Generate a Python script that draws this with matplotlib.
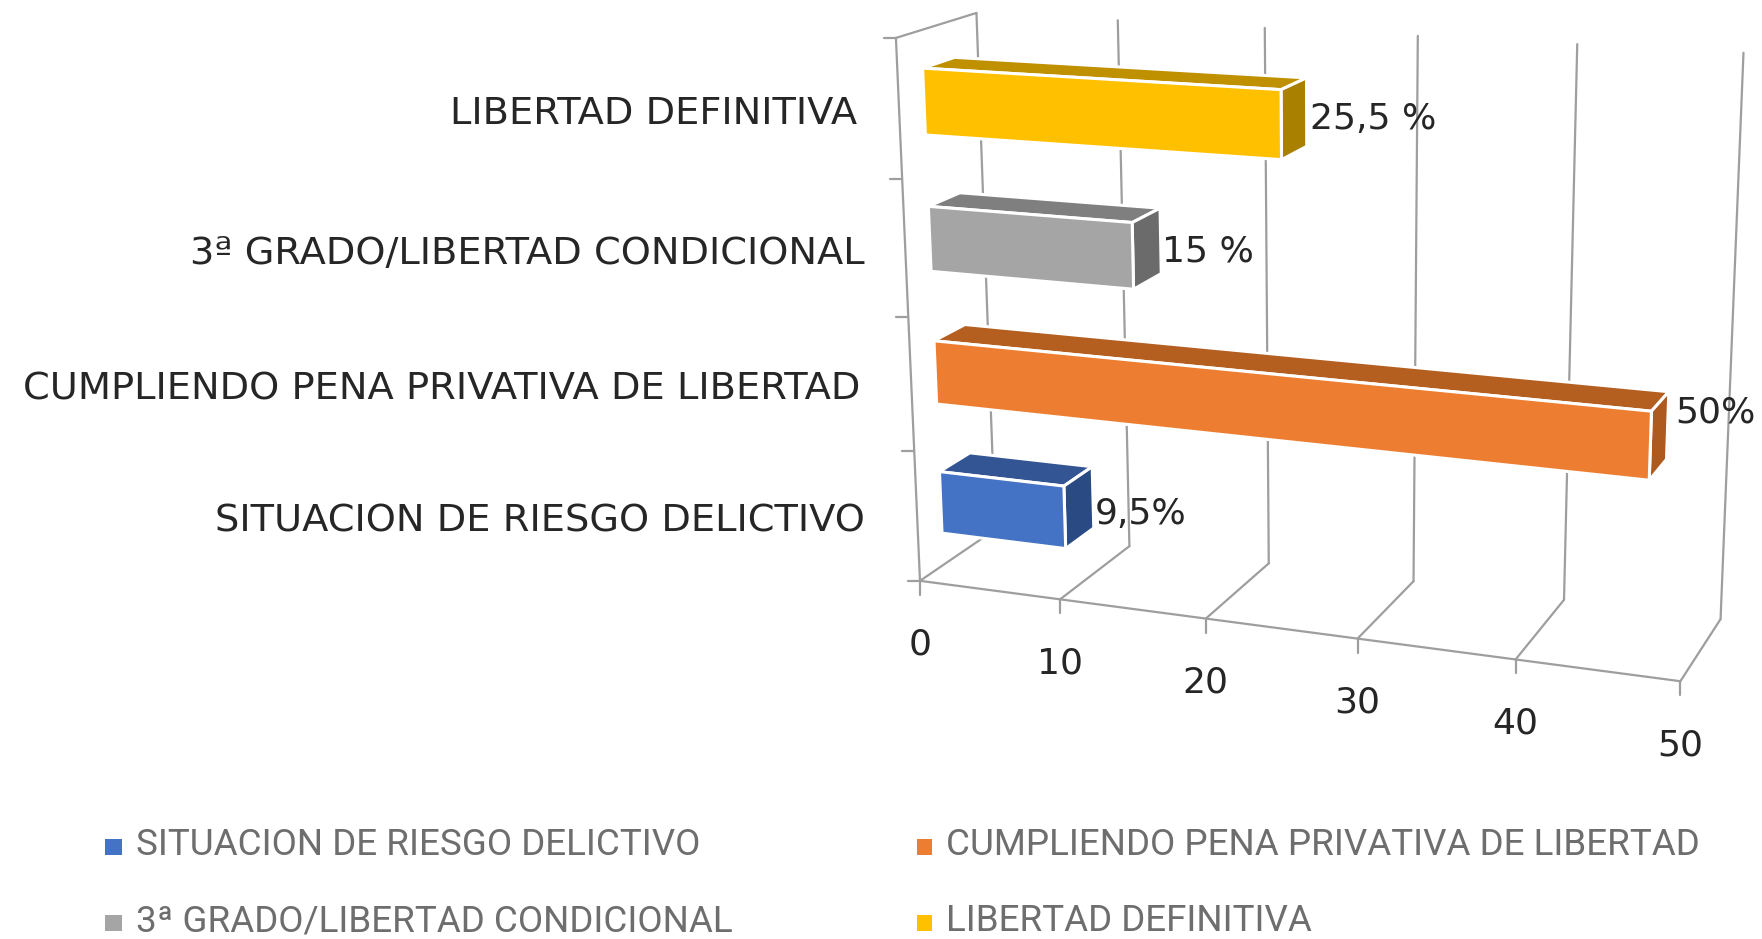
import numpy as np
import matplotlib
matplotlib.use("Agg")
import matplotlib.pyplot as plt
from matplotlib.patches import Rectangle

# data, bottom category first
categories = ["SITUACION DE RIESGO DELICTIVO", "CUMPLIENDO PENA PRIVATIVA DE LIBERTAD",
              "3ª GRADO/LIBERTAD CONDICIONAL", "LIBERTAD DEFINITIVA"]
values = [9.5, 50, 15, 25.5]
value_labels = ["9,5%", "50%", "15 %", "25,5 %"]
x_ticks = [0, 10, 20, 30, 40, 50]

front_colors = ["#4472C4", "#ED7D31", "#A5A5A5", "#FFC000"]
top_colors = ["#335593", "#B45F20", "#7F7F7F", "#BF9000"]
side_colors = ["#2A4A84", "#AE5A1E", "#6B6B6B", "#A98000"]

W, H = 1762, 939
GRID = "#9E9E9E"
LEGEND_TEXT = "#6E6E6E"
BAR_SCALE = 0.94  # Excel's 3D bars stop a bit short of the gridlines
BAR_LOW, BAR_HIGH = 0.25, 0.73
DEPTH_FRONT, DEPTH_BACK = 0.3, 0.7
n_cat = len(categories)

# pixel positions of the chart box corners, used to fit the 3D view
floor_front = [(921, 580), (1060, 599), (1206, 619), (1358, 638), (1515, 660), (1681, 682)]
floor_back = [(993, 531), (1131, 546), (1268, 563), (1414, 581), (1564, 600), (1720, 619)]
top_back = [(977, 13), (1119, 20), (1265, 28), (1418, 36), (1577, 43), (1743, 53)]
left_front = [(921, 580), (913, 451), (908, 316), (902, 181), (895, 38)]


def fit_view():
    """Least squares fit of a 3x4 projective matrix."""
    pairs = []
    for t, f, b, tb in zip(x_ticks, floor_front, floor_back, top_back):
        pairs += [((t, 0, 0), f), ((t, 0, 1), b), ((t, n_cat, 1), tb)]
    for i, p in enumerate(left_front):
        pairs.append(((0, i, 0), p))
    rows, rhs = [], []
    for (u, v, d), (x, y) in pairs:
        rows.append([u, v, d, 1, 0, 0, 0, 0, -x*u, -x*v, -x*d])
        rows.append([0, 0, 0, 0, u, v, d, 1, -y*u, -y*v, -y*d])
        rhs += [x, y]
    sol = np.linalg.lstsq(np.array(rows, float), np.array(rhs, float), rcond=None)[0]
    return np.append(sol, 1.0).reshape(3, 4)


VIEW = fit_view()


def project(u, v, d):
    px = VIEW @ np.array([u, v, d, 1.0])
    return px[0] / px[2], px[1] / px[2]


fig = plt.figure(figsize=(W / 100, H / 100), dpi=100)
ax = fig.add_axes([0, 0, 1, 1])
ax.set_xlim(0, W)
ax.set_ylim(H, 0)
ax.axis("off")


def line(a, b, lw=1.6):
    ax.plot(*zip(a, b), color=GRID, lw=lw, solid_capstyle="round", zorder=1)


# walls and floor
line(project(0, 0, 0), project(50, 0, 0))
line(project(0, 0, 0), project(0, n_cat, 0))
line(project(0, n_cat, 0), project(0, n_cat, 1))
for t in x_ticks:
    fx, fy = project(t, 0, 0)
    line((fx, fy), project(t, 0, 1))
    line(project(t, 0, 1), project(t, n_cat, 1))
    line((fx, fy), (fx, fy + 14))
    ax.text(fx, fy + 64, str(t), fontsize=26, family="DejaVu Sans", color="#262626",
            ha="center", va="center", zorder=5)
for i in range(n_cat + 1):
    cx, cy = project(0, i, 0)
    line((cx, cy), (cx - 12, cy))

# bars
label_offsets = [(2, 17), (8, -13), (1, 11), (3, 7)]
label_right = [865, 860, 865, 857]
label_y = [521, 390, 254, 114]
for i in range(n_cat):
    end = values[i] * BAR_SCALE
    v0, v1 = i + BAR_LOW, i + BAR_HIGH
    d0, d1 = DEPTH_FRONT, DEPTH_BACK
    faces = [
        ([(0, v1, d0), (end, v1, d0), (end, v1, d1), (0, v1, d1)], top_colors[i]),
        ([(end, v0, d0), (end, v0, d1), (end, v1, d1), (end, v1, d0)], side_colors[i]),
        ([(0, v0, d0), (end, v0, d0), (end, v1, d0), (0, v1, d0)], front_colors[i]),
    ]
    for corners, color in faces:
        pts = [project(*c) for c in corners]
        ax.fill(*zip(*pts), facecolor=color, edgecolor="white", lw=2.2,
                joinstyle="round", zorder=2)
    ex, ey = project(end, i + (BAR_LOW + BAR_HIGH) / 2, d1)
    ax.text(ex + label_offsets[i][0], ey + label_offsets[i][1], value_labels[i],
            fontsize=26, family="DejaVu Sans", color="#262626", va="center", zorder=5)
    ax.text(label_right[i], label_y[i], categories[i], fontsize=27.6, family="DejaVu Sans",
            color="#262626", ha="right", va="center", zorder=5)

# legend, two columns and two rows
legend_x = [105, 917]
legend_y = [847, 923]
for i in range(n_cat):
    col, row = i % 2, i // 2
    lx, ly = legend_x[col], legend_y[row]
    ax.add_patch(Rectangle((lx, ly - 8), 17 - 2 * col, 16, facecolor=front_colors[i],
                           edgecolor="none", zorder=3))
    ax.text(lx + 31 - 2 * col, ly - 2, categories[i], fontsize=26.5,
            family="Roboto", color=LEGEND_TEXT, va="center", zorder=5)

fig.savefig("out.png", dpi=100)
